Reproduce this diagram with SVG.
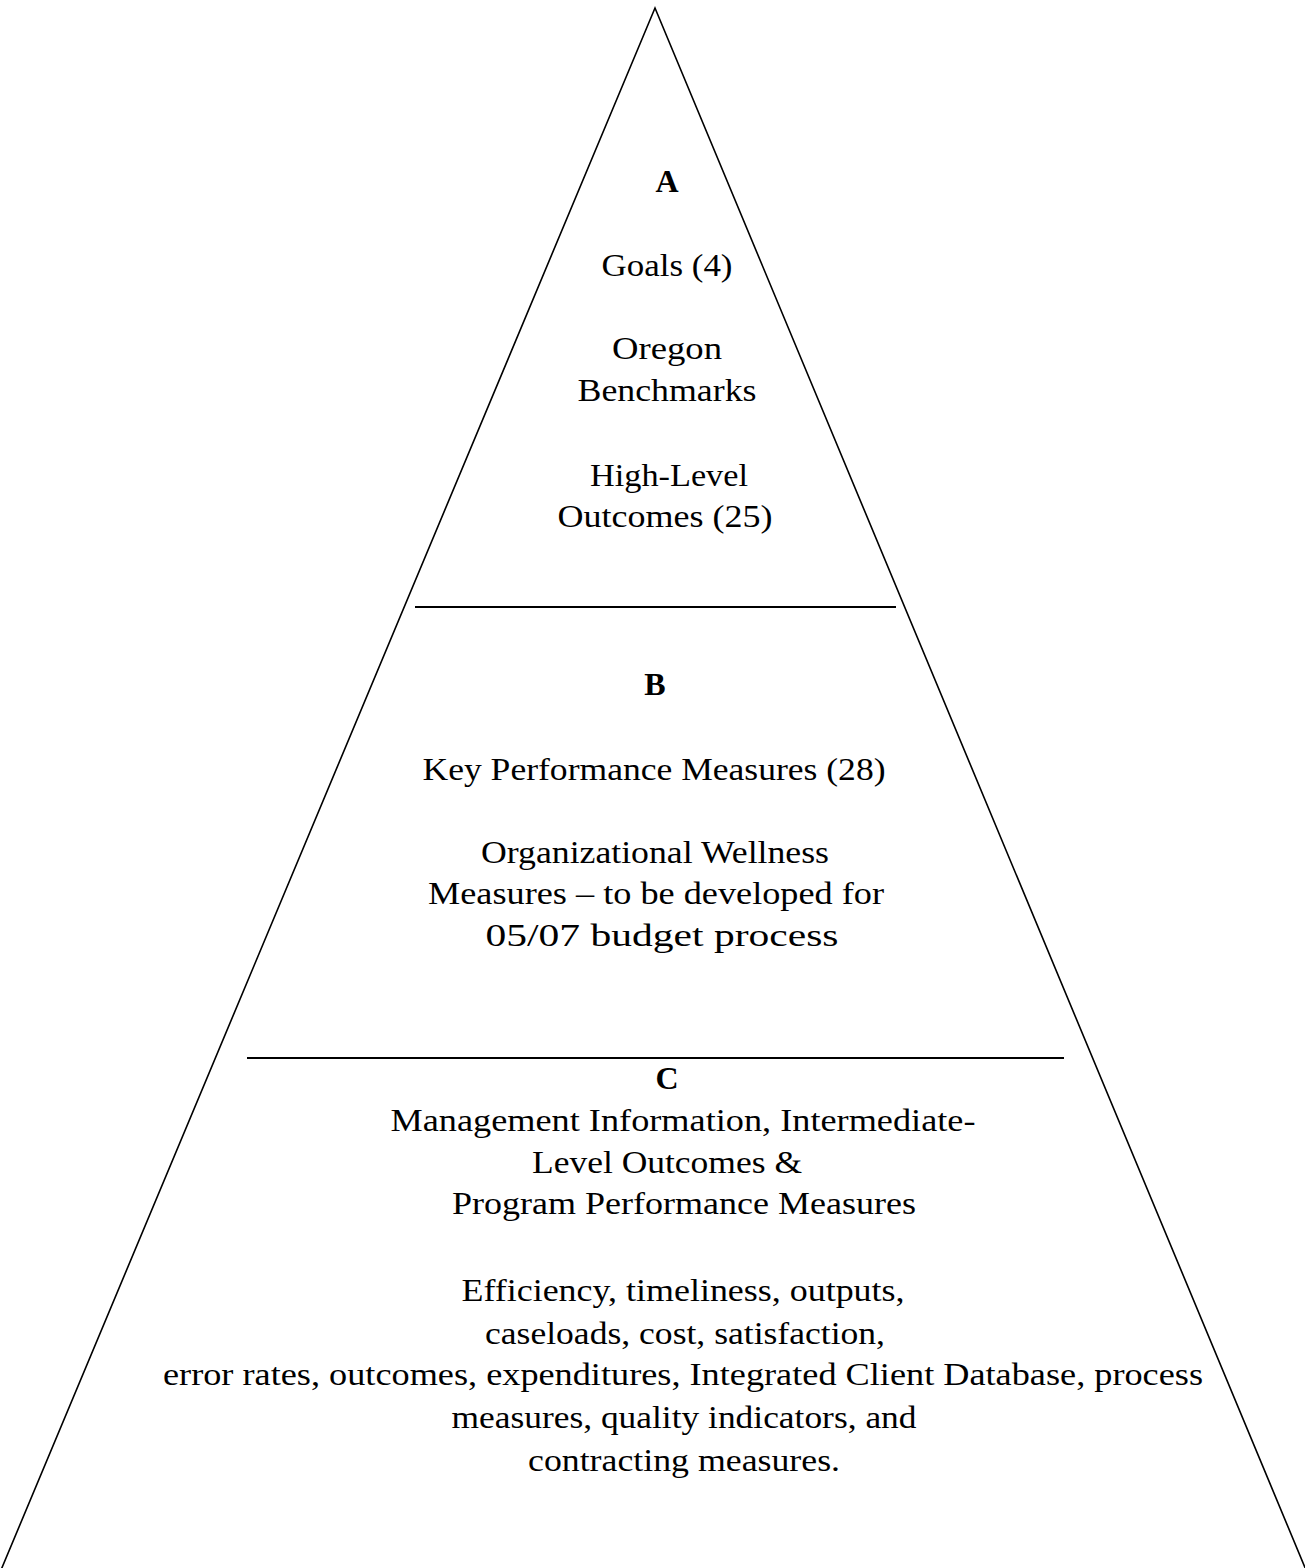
<svg xmlns="http://www.w3.org/2000/svg" width="1305" height="1568" viewBox="0 0 1305 1568">
<style>
.t{font-family:"Liberation Serif","Times New Roman",serif;font-size:32px;fill:#000;text-anchor:middle}
.b{font-weight:bold}
.ln{stroke:#000;stroke-width:2;fill:none}
.tri{stroke:#000;stroke-width:1.6;fill:none}
</style>
<rect width="1305" height="1568" fill="#fff"/>
<g id="pyramid">
<path class="tri" d="M1,1570 L655,8 L1306,1570"/>
</g>
<g id="connectors">
<line class="ln" x1="415" y1="607" x2="896" y2="607"/>
<line class="ln" x1="247" y1="1058" x2="1064" y2="1058"/>
</g>
<g id="tierA">
<text class="t b" x="667" y="192">A</text>
<text class="t" x="667" y="276" textLength="131" lengthAdjust="spacingAndGlyphs">Goals (4)</text>
<text class="t" x="667" y="359" textLength="110" lengthAdjust="spacingAndGlyphs">Oregon</text>
<text class="t" x="667" y="401" textLength="179" lengthAdjust="spacingAndGlyphs">Benchmarks</text>
<text class="t" x="669" y="486" textLength="158" lengthAdjust="spacingAndGlyphs">High-Level</text>
<text class="t" x="665" y="527" textLength="215" lengthAdjust="spacingAndGlyphs">Outcomes (25)</text>
</g>
<g id="tierB">
<text class="t b" x="655" y="695">B</text>
<text class="t" x="654" y="780" textLength="463" lengthAdjust="spacingAndGlyphs">Key Performance Measures (28)</text>
<text class="t" x="655" y="863" textLength="348" lengthAdjust="spacingAndGlyphs">Organizational Wellness</text>
<text class="t" x="656" y="904" textLength="456" lengthAdjust="spacingAndGlyphs">Measures – to be developed for</text>
<text class="t" x="662" y="946" textLength="353" lengthAdjust="spacingAndGlyphs">05/07 budget process</text>
</g>
<g id="tierC">
<text class="t b" x="667" y="1089">C</text>
<text class="t" x="683" y="1131" textLength="585" lengthAdjust="spacingAndGlyphs">Management Information, Intermediate-</text>
<text class="t" x="667" y="1173" textLength="270" lengthAdjust="spacingAndGlyphs">Level Outcomes &amp;</text>
<text class="t" x="684" y="1214" textLength="464" lengthAdjust="spacingAndGlyphs">Program Performance Measures</text>
<text class="t" x="683" y="1301" textLength="443" lengthAdjust="spacingAndGlyphs">Efficiency, timeliness, outputs,</text>
<text class="t" x="685" y="1344" textLength="400" lengthAdjust="spacingAndGlyphs">caseloads, cost, satisfaction,</text>
<text class="t" x="683" y="1385" textLength="1040" lengthAdjust="spacingAndGlyphs">error rates, outcomes, expenditures, Integrated Client Database, process</text>
<text class="t" x="684" y="1428" textLength="465" lengthAdjust="spacingAndGlyphs">measures, quality indicators, and</text>
<text class="t" x="684" y="1471" textLength="312" lengthAdjust="spacingAndGlyphs">contracting measures.</text>
</g>
</svg>
